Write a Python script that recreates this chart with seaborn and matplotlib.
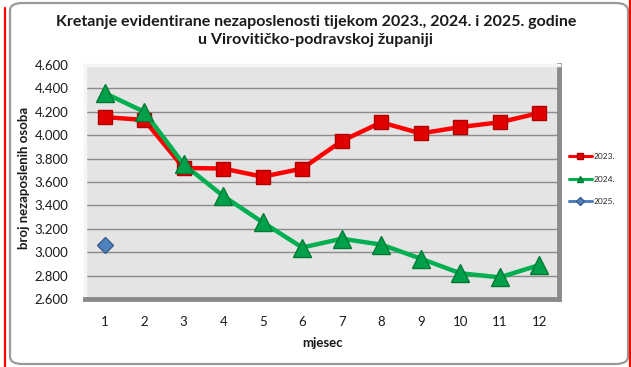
import matplotlib
matplotlib.use("Agg")
import matplotlib.pyplot as plt
import matplotlib.ticker as mticker
from matplotlib.patches import FancyBboxPatch
from matplotlib.lines import Line2D
import seaborn as sns
import pandas as pd

months = [1, 2, 3, 4, 5, 6, 7, 8, 9, 10, 11, 12]
v2023 = [4155, 4130, 3720, 3715, 3645, 3715, 3950, 4110, 4015, 4070, 4110, 4190]
v2024 = [4360, 4200, 3750, 3480, 3255, 3040, 3115, 3065, 2945, 2820, 2785, 2890]
months_2025 = [1]
v2025 = [3060]
series_labels = ["2023.", "2024.", "2025."]
yticks = [2600, 2800, 3000, 3200, 3400, 3600, 3800, 4000, 4200, 4400, 4600]

title = "Kretanje evidentirane nezaposlenosti tijekom 2023., 2024. i 2025. godine\nu Virovitičko-podravskoj županiji"

sns.set_theme(style="white")
plt.rcParams['font.family'] = ['Lato', 'DejaVu Sans']

W, H = 631, 367
fig = plt.figure(figsize=(W / 100, H / 100), dpi=100)
fig.patch.set_facecolor("white")

# outer frame
fig.add_artist(FancyBboxPatch((10 / W, 3 / H), 618 / W, 361 / H,
                              boxstyle="round,pad=0,rounding_size=0.02",
                              transform=fig.transFigure, fill=False,
                              edgecolor="#9a9a9a", linewidth=1.6))
fig.add_artist(Line2D([5 / W, 5 / W], [0, 1 - 8 / H], transform=fig.transFigure,
                      color="#ff0000", linewidth=1.6))
fig.add_artist(Line2D([630 / W, 630 / W], [0, 1], transform=fig.transFigure,
                      color="#ff0000", linewidth=1.6))

ax = fig.add_axes([85 / W, 1 - 299 / H, 474 / W, 234 / H])
ax.set_facecolor("#e4e4e4")

c23, c24, c25 = "#ff0000", "#00b050", "#4f81bd"
sns.lineplot(x=months, y=v2023, ax=ax, color=c23, linewidth=3.2, marker="s",
             markersize=10, markerfacecolor="#e00000", markeredgecolor="#b00000",
             markeredgewidth=1.0, zorder=4)
sns.lineplot(x=months, y=v2024, ax=ax, color=c24, linewidth=3.2, marker="^",
             markersize=13, markerfacecolor="#00a04a", markeredgecolor="#007a35",
             markeredgewidth=1.0, zorder=5)
sns.lineplot(x=months_2025, y=v2025, ax=ax, color=c25, linewidth=2.5, marker="D",
             markersize=8, markerfacecolor="#4f81bd", markeredgecolor="#385d8a",
             markeredgewidth=1.0, zorder=6)

ax.set_xlim(0.5, 12.5)
ax.set_ylim(2600, 4600)
ax.set_xticks(months)
ax.set_xticklabels([str(m) for m in months])
ax.set_yticks(yticks)
ax.yaxis.set_major_formatter(mticker.FuncFormatter(lambda v, p: f"{int(v):,}".replace(",", ".")))
ax.grid(axis="y", color="#8c8c8c", linewidth=1.0)
ax.set_axisbelow(True)
ax.tick_params(axis="both", length=0, labelsize=9.5, colors="#1a1a1a")
ax.tick_params(axis="y", pad=12)
ax.tick_params(axis="x", pad=12)

for s in ["top", "left"]:
    ax.spines[s].set_color("#f5f5f5")
    ax.spines[s].set_linewidth(2.5)
for s in ["right", "bottom"]:
    ax.spines[s].set_color("#8a8a8a")
    ax.spines[s].set_linewidth(3.5)

ax.set_xlabel("mjesec", fontsize=9.5, fontweight="bold", color="#1a1a1a")
ax.set_ylabel("broj nezaposlenih osoba", fontsize=9.5, fontweight="bold",
              color="#1a1a1a")
ax.xaxis.set_label_coords((323 - 85) / 474, -(337 - 299) / 234)
ax.yaxis.set_label_coords((30 - 85) / 474, (299 - 178) / 234)

fig.text(316 / W, 1 - 31 / H, title, ha="center", va="center", fontsize=11.5,
         fontweight="bold", color="#1a1a1a", linespacing=1.35)

handles = [
    Line2D([], [], color=c23, linewidth=2.2, marker="s", markersize=5,
           markerfacecolor="#e00000", markeredgecolor="#b00000"),
    Line2D([], [], color=c24, linewidth=2.2, marker="^", markersize=5,
           markerfacecolor="#00a04a", markeredgecolor="#007a35"),
    Line2D([], [], color=c25, linewidth=2.2, marker="D", markersize=4,
           markerfacecolor="#4f81bd", markeredgecolor="#385d8a"),
]
fig.legend(handles, series_labels, loc="center left",
           bbox_to_anchor=(561 / W, 1 - 179 / H), frameon=False, fontsize=6,
           handlelength=2.8, handletextpad=0.2, labelspacing=1.9)

fig.savefig("out.png", dpi=100)
